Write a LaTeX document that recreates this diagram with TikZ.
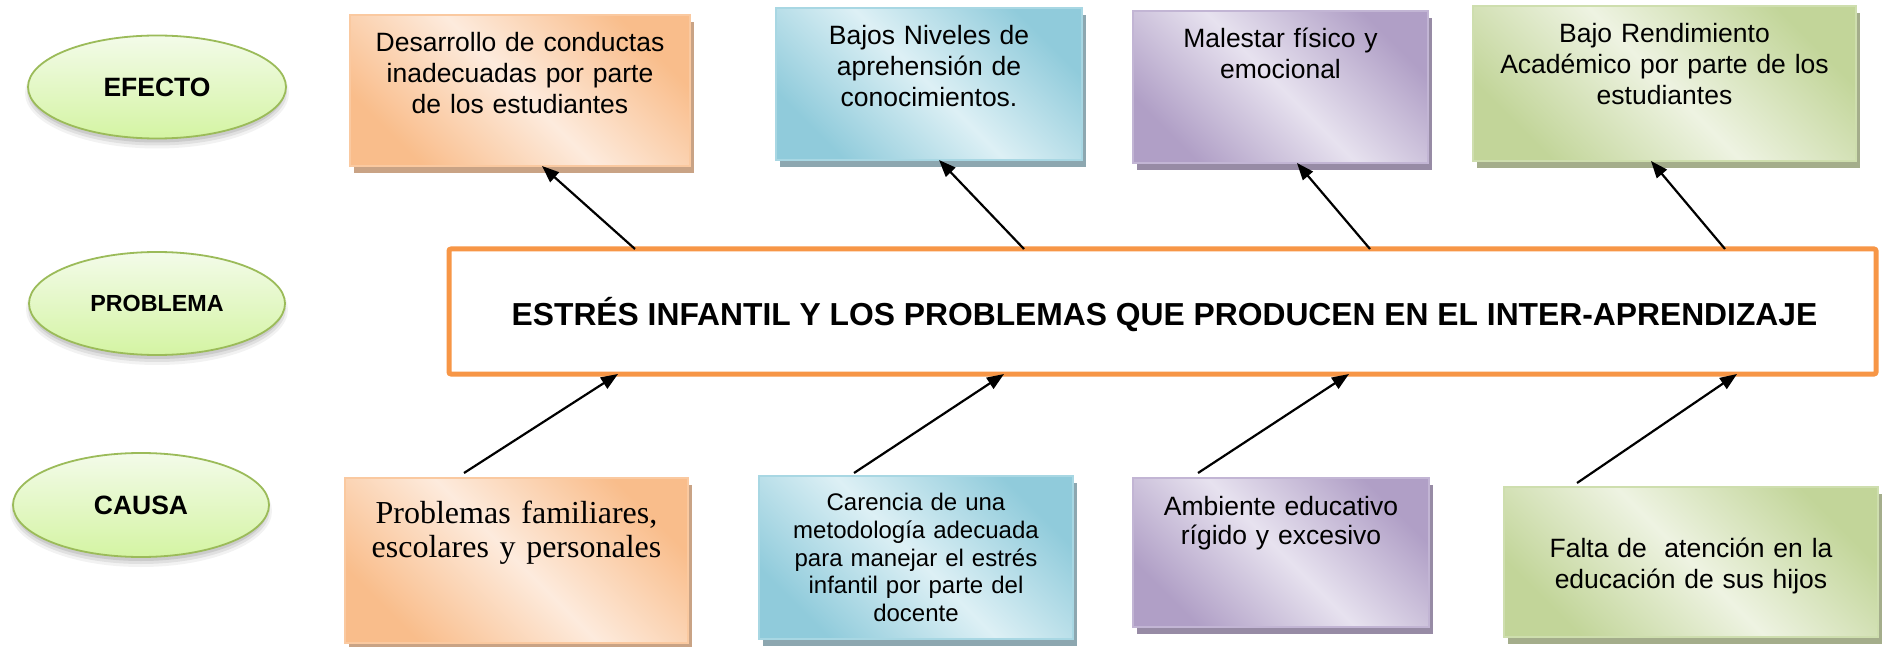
\documentclass[tikz,border=0pt]{standalone}
\usepackage{fontspec}
\setmainfont{Liberation Sans}
\newfontfamily\serifface{Liberation Serif}
\usetikzlibrary{arrows.meta,shapes.geometric}
\definecolor{ovalline}{HTML}{9BBB59}
\definecolor{ovaltop}{HTML}{F3FBE9}
\definecolor{ovalbot}{HTML}{D4F4A3}
\definecolor{mainor}{HTML}{F79646}
\definecolor{odark}{HTML}{F9BD8B}
\definecolor{olight}{HTML}{FDEBDD}
\definecolor{oshd}{HTML}{C9A385}
\definecolor{obord}{HTML}{FAC9A0}
\definecolor{bdark}{HTML}{90CBDB}
\definecolor{blight}{HTML}{DDF0F5}
\definecolor{bshd}{HTML}{8DA7B0}
\definecolor{bbord}{HTML}{A8D7E3}
\definecolor{pdark}{HTML}{B09FC6}
\definecolor{plight}{HTML}{E7E2EF}
\definecolor{pshd}{HTML}{978BA5}
\definecolor{pbord}{HTML}{C2B5D4}
\definecolor{gdark}{HTML}{C2D599}
\definecolor{glight}{HTML}{EEF3E2}
\definecolor{gshd}{HTML}{A4AD8B}
\definecolor{gbord}{HTML}{CEDEAE}
\newcommand\mkbox[7]{%
  \fill[#7] (#2+4,#3+7) rectangle (#4+4,#5+7);
  \node[#6, minimum width={#4-#2}, minimum height={#5-#3}] (#1) at ({(#2+#4)/2},{(#3+#5)/2}) {};
}
\newcommand\ovalshadow[4]{%
  \fill[black,opacity=0.05] (#1,#2+6) ellipse [x radius={(#3+3)*1pt}, y radius={(#4+4)*1pt}];
  \fill[black,opacity=0.07] (#1,#2+5) ellipse [x radius={(#3+1)*1pt}, y radius={(#4+2)*1pt}];
  \fill[black,opacity=0.09] (#1,#2+4) ellipse [x radius={(#3-1)*1pt}, y radius={(#4)*1pt}];
}
\begin{document}
\begin{tikzpicture}[x=1pt,y=-1pt,
  oval/.style={ellipse, draw=ovalline, line width=1.8pt, top color=ovaltop, bottom color=ovalbot,
    inner sep=0pt, font=\bfseries\fontsize{26.5}{30}\selectfont},
  cbox/.style n args={3}{draw=#1, line width=1.5pt, top color=#2, bottom color=#2, middle color=#3,
    shading angle=-45, outer sep=0pt, inner sep=0pt},
  etext/.style={anchor=base, align=center, inner sep=0pt, font=\fontsize{26.5}{31}\selectfont},
  arr/.style={draw=black, line width=2.2pt, -{Triangle[length=17pt,width=13pt]}}
]
\useasboundingbox (0,0) rectangle (1883,647);
\fill[white] (0,0) rectangle (1883,647);

% ovals
\ovalshadow{157}{87}{129}{51.5}
\node[oval, minimum width=258pt, minimum height=103pt] (efecto) at (157,87) {EFECTO};
\ovalshadow{157}{303.5}{128}{51.5}
\node[oval, minimum width=256pt, minimum height=103pt, font=\bfseries\fontsize{23.3}{28}\selectfont] (problema) at (157,303.5) {PROBLEMA};
\ovalshadow{141}{505}{128}{52}
\node[oval, minimum width=256pt, minimum height=104pt] (causa) at (141,505) {CAUSA};

% main problem box
\node[draw=mainor, line width=5pt, fill=white, rounded corners=2pt, outer sep=0pt,
  minimum width=1427pt, minimum height=125pt] (main) at (1162.5,311.5) {};
\node[anchor=base, inner sep=0pt, font=\bfseries\fontsize{31.8}{36}\selectfont] (title) at (1164.5,325.5)
  {ESTRÉS INFANTIL Y LOS PROBLEMAS QUE PRODUCEN EN EL INTER-APRENDIZAJE};

% effect boxes
\mkbox{e1}{350}{15}{690}{166}{cbox={obord}{odark}{olight}}{oshd}
\mkbox{e2}{776}{8}{1082}{160}{cbox={bbord}{bdark}{blight}}{bshd}
\mkbox{e3}{1133}{11}{1428}{163}{cbox={pbord}{pdark}{plight}}{pshd}
\mkbox{e4}{1473}{6}{1856}{161}{cbox={gbord}{gdark}{glight}}{gshd}
% cause boxes
\mkbox{c1}{345}{478}{688}{643}{cbox={obord}{odark}{olight}}{oshd}
\mkbox{c2}{759}{476}{1073}{639}{cbox={bbord}{bdark}{blight}}{bshd}
\mkbox{c3}{1133}{478}{1429}{627}{cbox={pbord}{pdark}{plight}}{pshd}
\mkbox{c4}{1504}{487}{1878}{637}{cbox={gbord}{gdark}{glight}}{gshd}

% texts
\node[etext, text width=330pt] (t1) at (520,52) {Desarrollo de conductas\\inadecuadas por parte\\de los estudiantes};
\node[etext, text width=296pt] (t2) at (929,44.5) {Bajos Niveles de\\aprehensión de\\conocimientos.};
\node[etext, text width=285pt] (t3) at (1280.5,48) {Malestar físico y\\emocional};
\node[etext, text width=373pt] (t4) at (1664.5,43) {Bajo Rendimiento\\Académico por parte de los\\estudiantes};
\node[etext, text width=333pt, font=\serifface\fontsize{32}{34}\selectfont] (t5) at (516.5,523) {Problemas familiares,\\escolares y personales};
\node[etext, text width=304pt, font=\fontsize{24}{27.75}\selectfont] (t6) at (916,510.6) {Carencia de una\\metodología adecuada\\para manejar el estrés\\infantil por parte del\\docente};
\node[etext, text width=286pt, font=\fontsize{26.5}{29.5}\selectfont] (t7) at (1281,515) {Ambiente educativo\\rígido y excesivo};
\node[etext, text width=364pt, font=\fontsize{26.5}{31}\selectfont] (t8) at (1691,557) {Falta de~ atención en la\\educación de sus hijos};

% arrow anchors
\coordinate (x1) at (635,0);  \coordinate (y1) at (542,0);
\coordinate (x2) at (1024,0); \coordinate (y2) at (939,0);
\coordinate (x3) at (1370,0); \coordinate (y3) at (1297,0);
\coordinate (x4) at (1725,0); \coordinate (y4) at (1651,0);
\coordinate (s1) at (464,473);  \coordinate (z1) at (618,0);
\coordinate (s2) at (854,473);  \coordinate (z2) at (1004,0);
\coordinate (s3) at (1198,473); \coordinate (z3) at (1349,0);
\coordinate (s4) at (1577,483); \coordinate (z4) at (1737,0);

\draw[arr] (main.north -| x1) -- (e1.south -| y1);
\draw[arr] (main.north -| x2) -- (e2.south -| y2);
\draw[arr] (main.north -| x3) -- (e3.south -| y3);
\draw[arr] (main.north -| x4) -- (e4.south -| y4);
\draw[arr] (s1) -- (main.south -| z1);
\draw[arr] (s2) -- (main.south -| z2);
\draw[arr] (s3) -- (main.south -| z3);
\draw[arr] (s4) -- (main.south -| z4);
\end{tikzpicture}
\end{document}
